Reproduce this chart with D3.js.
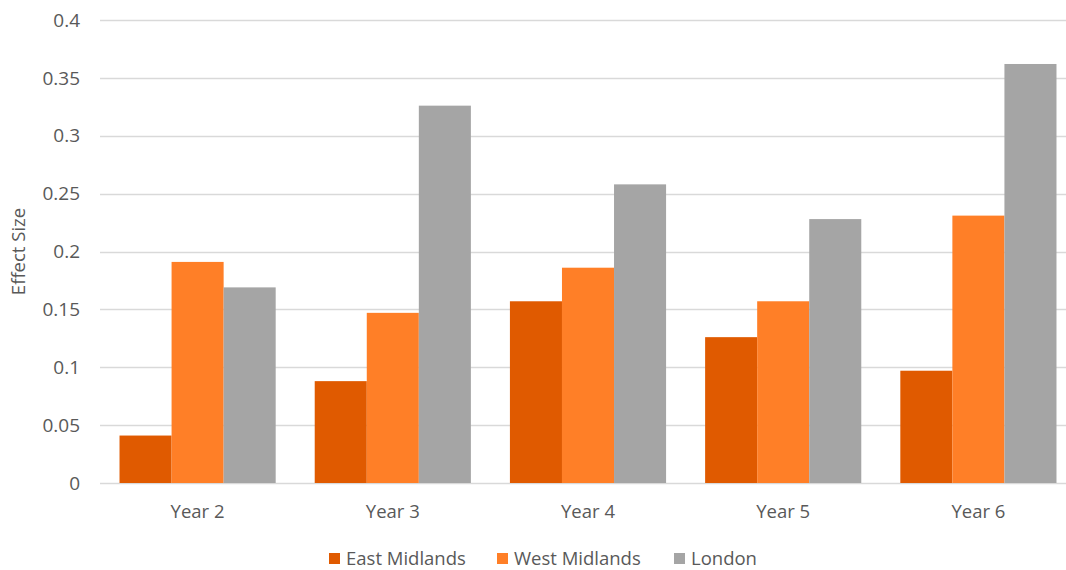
<!DOCTYPE html>
<html>
<head>
<meta charset="utf-8">
<script src="https://cdn.jsdelivr.net/npm/d3@7"></script>
<style>
  body { margin: 0; background: #fff; }
  text { font-family: "Open Sans", sans-serif; fill: #595959; }
</style>
</head>
<body>
<svg id="chart" width="1066" height="570"></svg>
<script>
// Data
const years = ["Year 2", "Year 3", "Year 4", "Year 5", "Year 6"];
const regions = ["East Midlands", "West Midlands", "London"];
const eastMidlands = [0.041, 0.088, 0.157, 0.126, 0.097];
const westMidlands = [0.191, 0.147, 0.186, 0.157, 0.231];
const london = [0.169, 0.326, 0.258, 0.228, 0.362];
const yTicks = [0, 0.05, 0.1, 0.15, 0.2, 0.25, 0.3, 0.35, 0.4];

const colors = ["#E05A00", "#FF7F27", "#A5A5A5"];
const seriesValues = [eastMidlands, westMidlands, london];

const svg = d3.select("#chart");
const margin = { left: 100, right: -10, top: 20, bottom: 87 };
const width = 1066 - margin.left - margin.right;
const height = 570 - margin.top - margin.bottom;

const g = svg.append("g").attr("transform", `translate(${margin.left},${margin.top})`);

const x = d3.scaleBand().domain(years).range([0, width]).paddingInner(0.2).paddingOuter(0.1);
const xInner = d3.scaleBand().domain(regions).range([0, x.bandwidth()]);
const y = d3.scaleLinear().domain([0, 0.4]).range([height, 0]);

// gridlines
g.append("g")
    .selectAll("line")
    .data(yTicks)
    .join("line")
    .attr("x1", 0)
    .attr("x2", width)
    .attr("y1", d => Math.round(y(d)) + 0.5)
    .attr("y2", d => Math.round(y(d)) + 0.5)
    .attr("stroke", "#D9D9D9")
    .attr("stroke-width", 1.5);

// y tick labels
g.append("g")
    .selectAll("text")
    .data(yTicks)
    .join("text")
    .attr("x", -20)
    .attr("y", d => y(d))
    .attr("dy", "0.35em")
    .attr("text-anchor", "end")
    .attr("font-size", "19px")
    .text(d => d);

// bars
const rows = years.map((yr, i) => ({ year: yr, values: regions.map((r, j) => ({ region: r, value: seriesValues[j][i], color: colors[j] })) }));

g.append("g")
    .selectAll("g")
    .data(rows)
    .join("g")
    .attr("transform", d => `translate(${x(d.year)},0)`)
    .selectAll("rect")
    .data(d => d.values)
    .join("rect")
    .attr("x", d => xInner(d.region))
    .attr("y", d => y(d.value))
    .attr("width", xInner.bandwidth())
    .attr("height", d => y(0) - y(d.value))
    .attr("fill", d => d.color);

// x labels
g.append("g")
    .selectAll("text")
    .data(years)
    .join("text")
    .attr("x", d => x(d) + x.bandwidth() / 2)
    .attr("y", height + 35)
    .attr("text-anchor", "middle")
    .attr("font-size", "18.5px")
    .text(d => d);

// y axis title
svg.append("text")
    .attr("transform", `translate(25,${margin.top + height / 2}) rotate(-90)`)
    .attr("text-anchor", "middle")
    .attr("font-size", "18.5px")
    .text("Effect Size");

// legend
const legendX = [329, 497, 674];
const legend = svg.append("g")
    .selectAll("g")
    .data(regions)
    .join("g")
    .attr("transform", (d, i) => `translate(${legendX[i]},553)`);

legend.append("rect")
    .attr("width", 11)
    .attr("height", 11)
    .attr("fill", (d, i) => colors[i]);

legend.append("text")
    .attr("x", 17)
    .attr("y", 5.5)
    .attr("dy", "0.35em")
    .attr("font-size", "18.5px")
    .text(d => d);
</script>
</body>
</html>
